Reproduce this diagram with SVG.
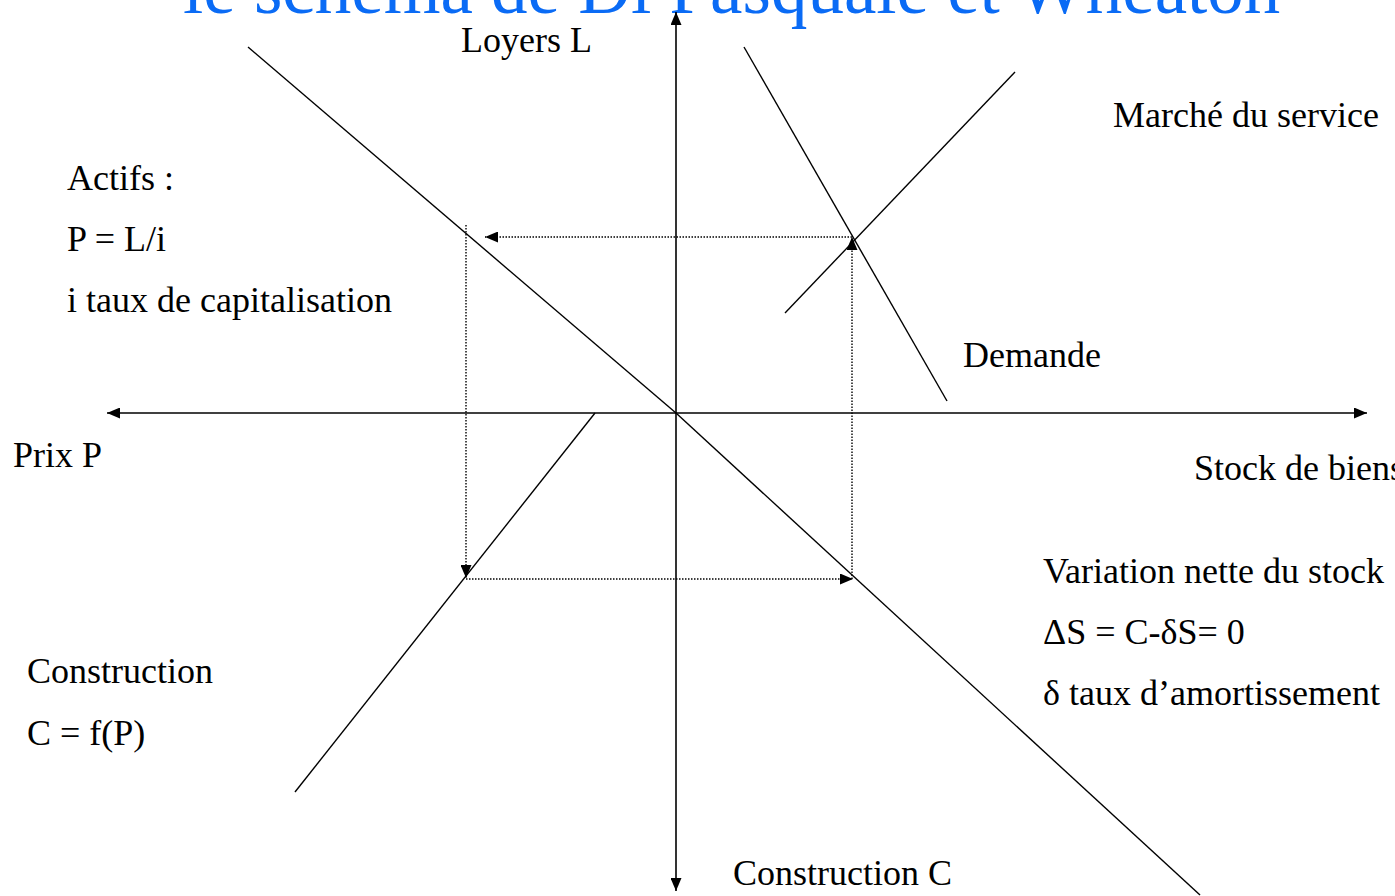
<svg xmlns="http://www.w3.org/2000/svg" width="1395" height="896" viewBox="0 0 1395 896">
<defs>
<style>
.t{font-family:"Liberation Serif","Times New Roman",serif;font-size:36px;fill:#000}
.title{font-family:"Liberation Serif","Times New Roman",serif;font-size:73px;fill:#0A6BF5}
.ax{stroke:#000;stroke-width:1.6;fill:none}
.ln{stroke:#000;stroke-width:1.4;fill:none}
.dot{stroke:#000;stroke-width:1.4;stroke-dasharray:1.5,1.5;fill:none}
</style>
<marker id="ah" markerUnits="userSpaceOnUse" markerWidth="13" markerHeight="11" refX="13" refY="5.5" orient="auto-start-reverse">
<path d="M0,0 L13,5.5 L0,11 z" fill="#000"/>
</marker>
</defs>
<text class="title" x="183" y="13">le schéma de Di Pasquale et Wheaton</text>
<g id="connectors">
<line class="ax" x1="107" y1="413" x2="1367" y2="413" marker-start="url(#ah)" marker-end="url(#ah)"/>
<line class="ax" x1="676" y1="891" x2="676" y2="12" marker-start="url(#ah)" marker-end="url(#ah)"/>
<line class="dot" x1="852" y1="237" x2="485" y2="237" marker-end="url(#ah)"/>
<line class="dot" x1="466" y1="225" x2="466" y2="578" marker-end="url(#ah)"/>
<line class="dot" x1="466" y1="579" x2="853" y2="579" marker-end="url(#ah)"/>
<line class="dot" x1="852" y1="579" x2="852" y2="237" marker-end="url(#ah)"/>
</g>
<g id="asset-line">
<line class="ln" x1="248" y1="47" x2="676" y2="413"/>
<line class="ln" x1="676" y1="413" x2="1200" y2="895"/>
</g>
<g id="demand-line"><line class="ln" x1="744" y1="47" x2="947" y2="401"/></g>
<g id="supply-line"><line class="ln" x1="785" y1="313" x2="1015" y2="72"/></g>
<g id="construction-line"><line class="ln" x1="595" y1="413" x2="295" y2="792"/></g>
<g id="labels">
<text class="t" x="461" y="52">Loyers L</text>
<text class="t" x="1113" y="127">Marché du service</text>
<text class="t" x="67" y="190">Actifs :</text>
<text class="t" x="67" y="251">P = L/i</text>
<text class="t" x="67" y="312">i taux de capitalisation</text>
<text class="t" x="963" y="367">Demande</text>
<text class="t" x="13" y="467">Prix P</text>
<text class="t" x="1194" y="480">Stock de biens</text>
<text class="t" x="1043" y="583">Variation nette du stock</text>
<text class="t" x="1043" y="644">ΔS = C-δS= 0</text>
<text class="t" x="1043" y="705">δ taux d’amortissement</text>
<text class="t" x="27" y="683">Construction</text>
<text class="t" x="27" y="745">C = f(P)</text>
<text class="t" x="733" y="885">Construction C</text>
</g>
</svg>
